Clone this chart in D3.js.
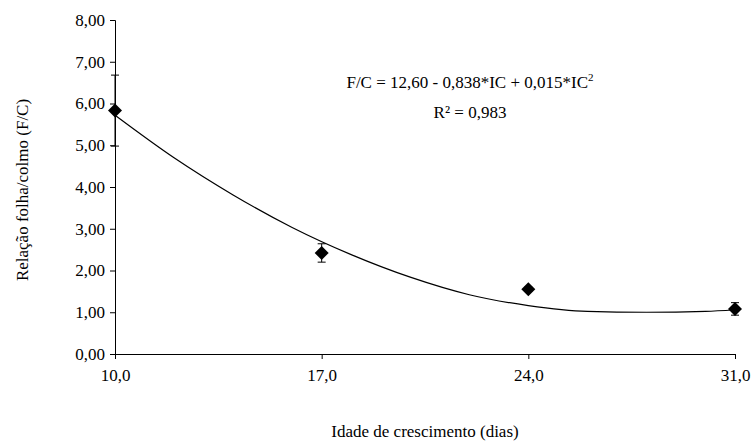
<!DOCTYPE html>
<html><head><meta charset="utf-8">
<script src="https://cdn.jsdelivr.net/npm/d3@7"></script>
<style>body{margin:0;background:#fff}text{font-family:"Liberation Serif","DejaVu Serif",serif;}</style>
</head><body><svg id="c" width="755" height="448"></svg>
<script>
const ageDays = [10, 17, 24, 31];
const fcMean = [5.83, 2.42, 1.55, 1.08];
const fcErr = [0.85, 0.22, 0.05, 0.15];
const curveX = [10, 12, 14, 16, 18, 20, 22, 24, 26, 28, 30, 31];
const curveY = [5.72, 4.70, 3.81, 3.03, 2.38, 1.84, 1.42, 1.16, 1.02, 1.00, 1.02, 1.06];
const yTicks = [0, 1, 2, 3, 4, 5, 6, 7, 8];
const xTicks = [10, 17, 24, 31];

const svg = d3.select("#c");
const x = d3.scaleLinear().domain([10, 31]).range([115, 735]);
const y = d3.scaleLinear().domain([0, 8]).range([354, 20]);
const fmt = v => v.toFixed(2).replace(".", ",");

const ya = svg.append("g").attr("transform","translate(115,0)")
  .call(d3.axisLeft(y).tickValues(yTicks).tickFormat(fmt).tickSizeOuter(0).tickSize(5));
const xa = svg.append("g").attr("transform","translate(0,354)")
  .call(d3.axisBottom(x).tickValues(xTicks).tickFormat(v=>v.toFixed(1).replace(".",",")).tickSizeOuter(0).tickSize(5));
[ya, xa].forEach(a=>{a.selectAll("path,line").attr("stroke","#000");a.selectAll("text").attr("font-size",17).attr("fill","#000").attr("font-family",null);});
ya.selectAll("text").attr("dx",-2);
xa.selectAll("text").attr("dy","1.1em");

svg.append("path").datum(curveX.map((d,i)=>[d,curveY[i]]))
  .attr("d", d3.line().x(d=>x(d[0])).y(d=>y(d[1])).curve(d3.curveMonotoneX))
  .attr("fill","none").attr("stroke","#000").attr("stroke-width",1.2);

const g = svg.append("g");
ageDays.forEach((d,i)=>{
  const cx=x(d);
  g.append("line").attr("x1",cx).attr("x2",cx).attr("y1",y(fcMean[i]-fcErr[i])).attr("y2",y(fcMean[i]+fcErr[i])).attr("stroke","#000");
  [fcMean[i]-fcErr[i], fcMean[i]+fcErr[i]].forEach(v=>g.append("line").attr("x1",cx-4).attr("x2",cx+4).attr("y1",y(v)).attr("y2",y(v)).attr("stroke","#000"));
  g.append("path").attr("d","M0,-7L7,0L0,7L-7,0Z").attr("transform",`translate(${cx},${y(fcMean[i])})`).attr("fill","#000");
});

svg.append("text").attr("x",470).attr("y",88).attr("text-anchor","middle").attr("font-size",17)
  .html('F/C = 12,60 - 0,838*IC + 0,015*IC<tspan dy="-7" font-size="11">2</tspan>');
svg.append("text").attr("x",470).attr("y",118).attr("text-anchor","middle").attr("font-size",17).text("R² = 0,983");
svg.append("text").attr("x",425).attr("y",437).attr("text-anchor","middle").attr("font-size",17).text("Idade de crescimento (dias)");
svg.append("text").attr("transform","translate(28,190) rotate(-90)").attr("text-anchor","middle").attr("font-size",17).text("Relação folha/colmo (F/C)");
</script></body></html>
